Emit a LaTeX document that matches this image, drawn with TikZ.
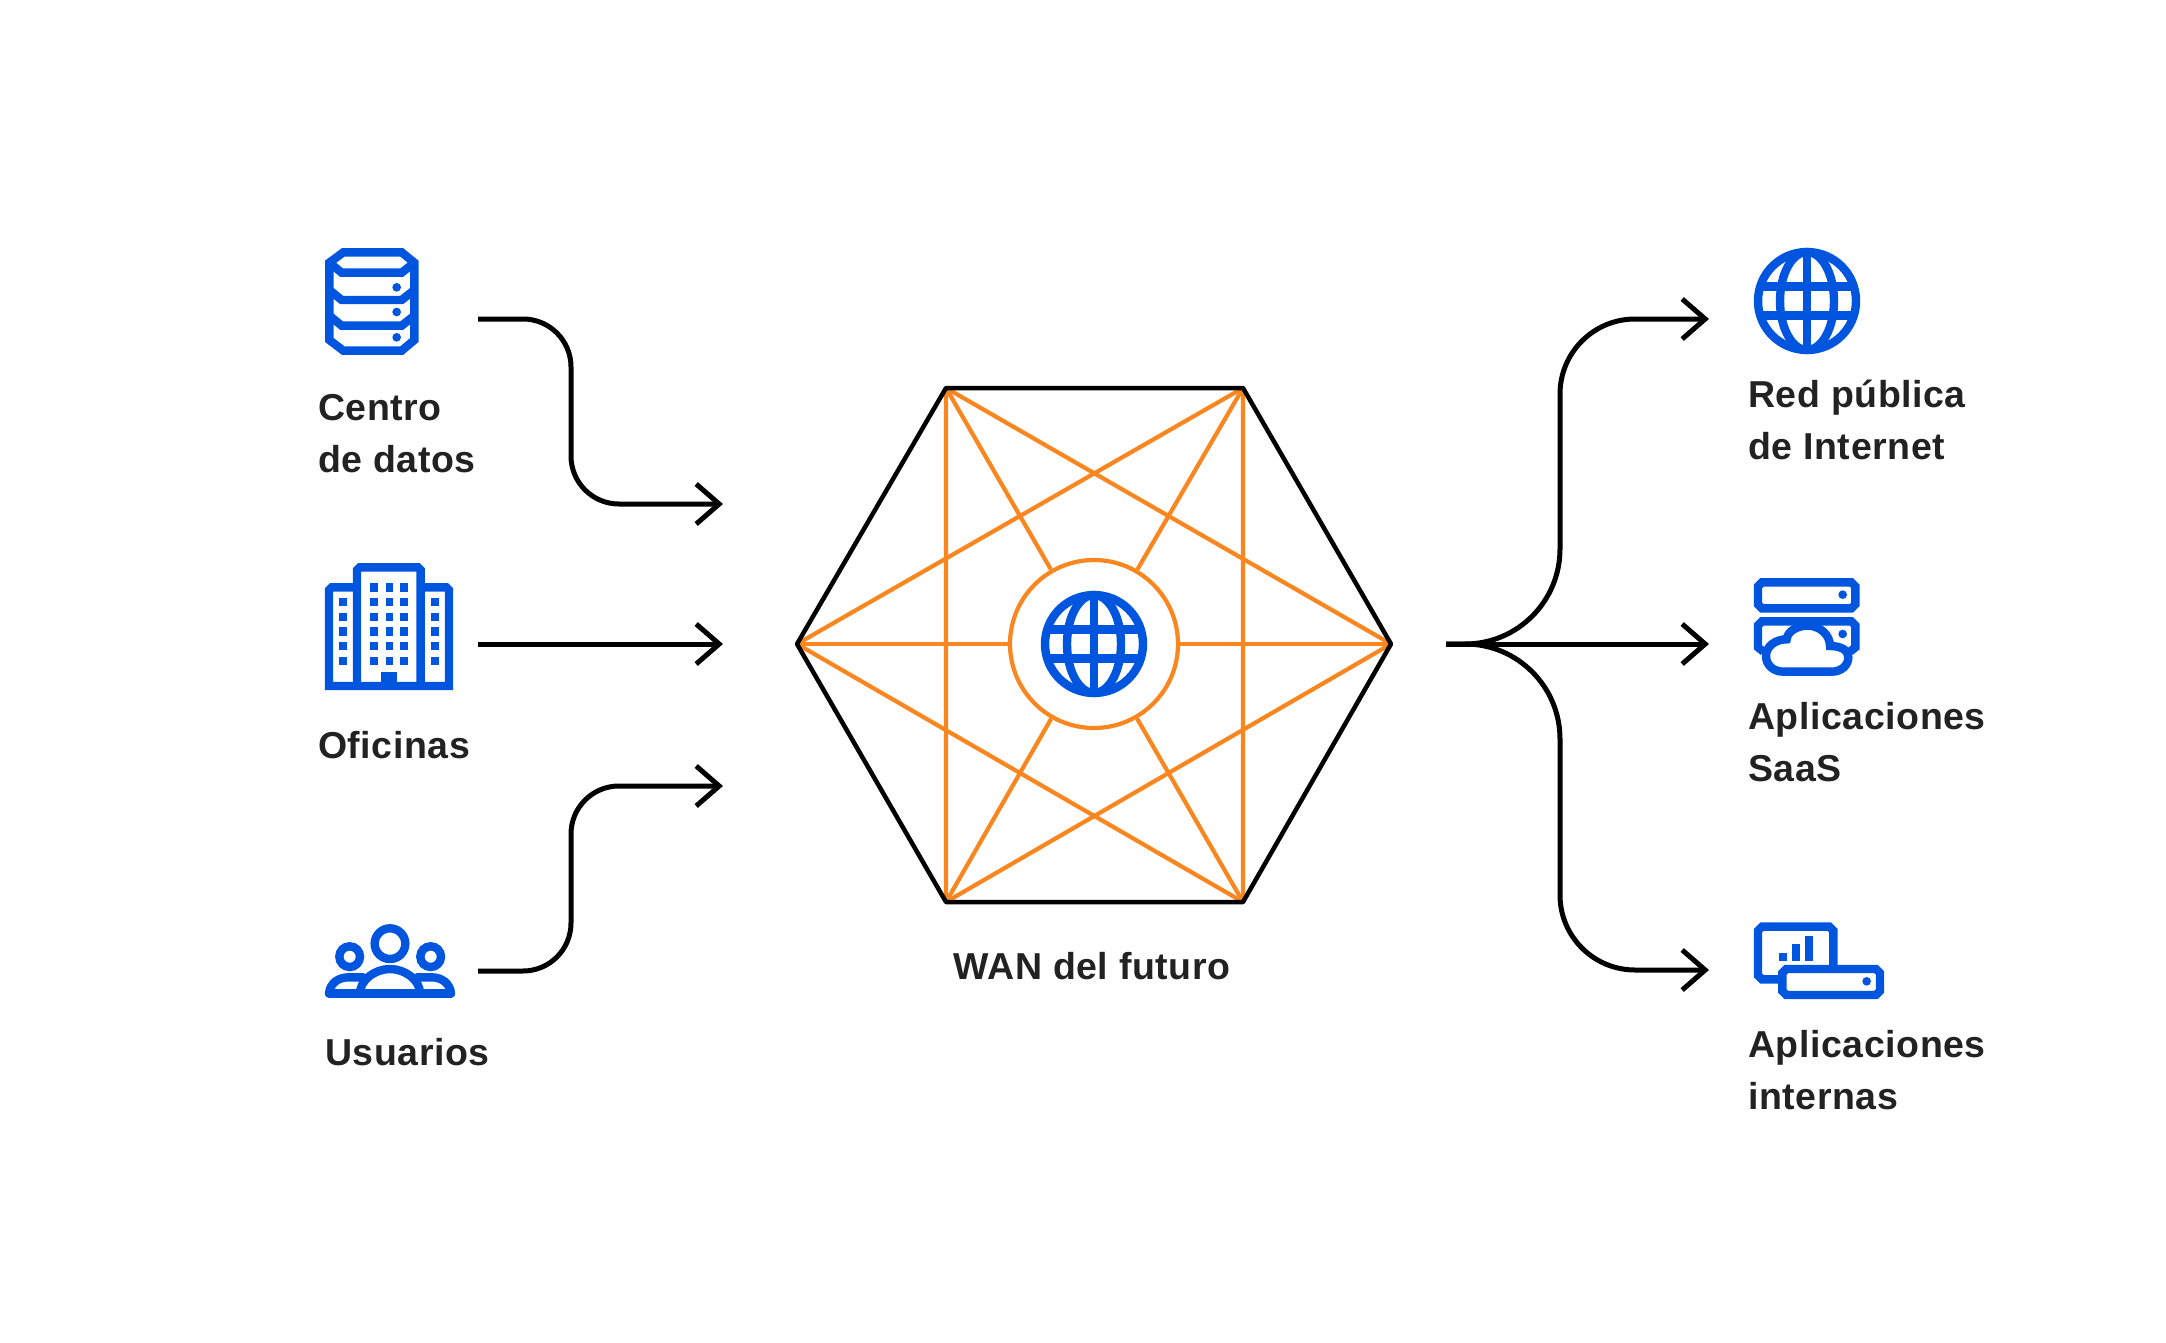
\documentclass[tikz,border=0pt]{standalone}
\usepackage{fontspec}
\usetikzlibrary{arrows.meta}
\newfontfamily\labelfont[LetterSpace=1.5]{Liberation Sans Bold}
\definecolor{iconblue}{HTML}{0055DF}
\definecolor{meshorange}{HTML}{F9861E}
\definecolor{labelgray}{HTML}{222222}
\begin{document}
\begin{tikzpicture}[x=1pt,y=-1pt,line join=round,
	>={Straight Barb[length=23pt,width=40pt,line width=5pt]},
	flow/.style={draw=black,line width=5pt,->},
	hexside/.style={draw=black,line width=4.5pt},
	mesh/.style={draw=meshorange,line width=4.2pt},
	icon/.style={draw=iconblue,line width=8.4pt,line join=miter},
	dot/.style={fill=iconblue},
	lbl/.style={font=\labelfont\fontsize{37.5}{52}\selectfont,text=labelgray,align=left,inner sep=0pt,anchor=north west},
	globe/.pic={
		\draw[icon] (0,0) circle(49);
		\draw[icon] (0,0) ellipse (27 and 49);
		\draw[icon] (0,-49)--(0,49);
		\draw[icon] (-47,-14.5)--(47,-14.5) (-47,14.5)--(47,14.5);
	}]
	\useasboundingbox (0,0) rectangle (2166,1343);
	
	% hexagon
	\coordinate (hl) at (797,644);
	\coordinate (htl) at (946,388);
	\coordinate (htr) at (1243,388);
	\coordinate (hr) at (1391,644);
	\coordinate (hbr) at (1243,902);
	\coordinate (hbl) at (946,902);
	\node[circle,mesh,minimum size=168pt,inner sep=0pt] (hub) at (1094,644) {};
	\foreach \v in {hl,htl,htr,hr,hbr,hbl}
	\draw[mesh] (\v)--(hub);
	\draw[mesh] (htl)--(hbl) (htr)--(hbr) (hl)--(htr) (hl)--(hbr) (hr)--(htl) (hr)--(hbl);
	\draw[hexside] (hl)--(htl)--(htr)--(hr)--(hbr)--(hbl)--cycle;
	\pic at (1094,644) {globe};
	\node[lbl,anchor=north] (wan) at (1092,952) {WAN del futuro};
	
	% servers
	\begin{scope}[shift={(300,230)},scale=1/3]
		\draw[icon] (88,98)--(130,67)--(305,67)--(343,98)--(343,330)--(305,362)--(130,362)--(88,330)--cycle;
		\foreach \y in {98,180,257}
		\draw[icon] (88,\y)--(125,\y+30)--(305,\y+30)--(343,\y);
		\foreach \y in {172,246,322}
		\fill[dot] (290,\y) circle(13);
	\end{scope}
	\node[lbl] (datos) at (318,394) {Centro\\de datos};
	
	% offices
	\begin{scope}[shift={(300,550)},scale=1/3]
		\draw[icon] (171,410)--(171,60)--(179,52)--(354,52)--(362,60)--(362,410);
		\draw[icon] (171,112)--(95,112)--(87,120)--(87,408)--(447,408)--(447,120)--(439,112)--(362,112);
		\fill[dot] (242,367) rectangle (290,400);
		\foreach \x in {211,257,301}
		\foreach \y in {100,144,188,232,276,320}
		\fill[dot] (\x,\y) rectangle (\x+23,\y+25);
		\foreach \x in {118,394}
		\foreach \y in {144,188,232,276,320}
		\fill[dot] (\x,\y) rectangle (\x+23,\y+25);
	\end{scope}
	\node[lbl] (oficinas) at (318,731) {Oficinas};
	
	% users
	\begin{scope}[shift={(300,900)},scale=1/3]
		\draw[icon] (270,131) circle(46);
		\draw[icon] (149,170) circle(31);
		\draw[icon] (392,170) circle(31);
		\draw[icon,line cap=round] (87,280)--(453,280);
		\draw[icon] (180,280) .. controls (180,240) and (225,207) .. (270,207) .. controls (315,207) and (360,240) .. (360,280);
		\draw[icon,line cap=round] (87,280) .. controls (90,250) and (115,232) .. (145,232)--(190,232);
		\draw[icon,line cap=round] (453,280) .. controls (450,250) and (425,232) .. (395,232)--(350,232);
	\end{scope}
	\node[lbl] (usuarios) at (325,1038) {Usuarios};
	
	% internet
	\pic at (1807,301) {globe};
	\node[lbl] (internet) at (1748,380) {Red pública\\de Internet};
	
	% saas
	\begin{scope}[shift={(1730,560)},scale=1/3]
		\draw[icon] (96,67)--(364,67)--(376,79)--(376,133)--(364,145)--(96,145)--(84,133)--(84,79)--cycle;
		\fill[dot] (338,104) circle(13);
		\draw[icon] (100,275)--(84,262)--(84,196)--(96,184)--(364,184)--(376,196)--(376,262)--(360,275);
		\fill[dot] (338,222) circle(13);
		\filldraw[icon,fill=white] (160,335)--(305,335) .. controls (335,335) and (355,315) .. (355,292) .. controls (355,272) and (335,258) .. (300,258) .. controls (300,225) and (270,197) .. (233,197) .. controls (200,197) and (172,215) .. (170,238) .. controls (135,238) and (108,260) .. (108,288) .. controls (108,315) and (130,335) .. (160,335)--cycle;
	\end{scope}
	\node[lbl] (saas) at (1748,702) {Aplicaciones\\SaaS};
	
	% internal apps
	\begin{scope}[shift={(1730,900)},scale=1/3]
		\draw[icon] (96,80)--(298,80)--(310,92)--(310,226)--(298,238)--(96,238)--(84,226)--(84,92)--cycle;
		\fill[dot] (146,160) rectangle (172,184);
		\fill[dot] (185,133) rectangle (211,184);
		\fill[dot] (224,108) rectangle (250,184);
		\filldraw[icon,fill=white] (169,207)--(438,207)--(450,219)--(450,273)--(438,285)--(169,285)--(157,273)--(157,219)--cycle;
		\fill[dot] (410,244) circle(13);
	\end{scope}
	\node[lbl] (internas) at (1748,1030) {Aplicaciones\\internas};
	
	% flows on the left
	\coordinate (ina) at (478,319);
	\coordinate (inb) at (478,644);
	\coordinate (inc) at (478,971);
	\coordinate (outa) at (723,504);
	\coordinate (outb) at (723,644);
	\coordinate (outc) at (723,786);
	\draw[flow] (ina)--(523,319) arc(-90:0:48)--(571,456) arc(180:90:48)--(outa);
	\draw[flow] (inb)--(outb);
	\draw[flow] (inc)--(523,971) arc(90:0:48)--(571,834) arc(180:270:48)--(outc);
	
	% flows on the right
	\coordinate (fork) at (1446,644);
	\coordinate (dsta) at (1709,319);
	\coordinate (dstb) at (1709,644);
	\coordinate (dstc) at (1709,970);
	\draw[flow] (fork)--(dstb);
	\draw[flow] (fork)--(1465,644) arc(90:0:95)--(1560,394) arc(180:270:75)--(dsta);
	\draw[flow] (fork)--(1465,644) arc(-90:0:95)--(1560,895) arc(180:90:75)--(dstc);
\end{tikzpicture}
\end{document}
